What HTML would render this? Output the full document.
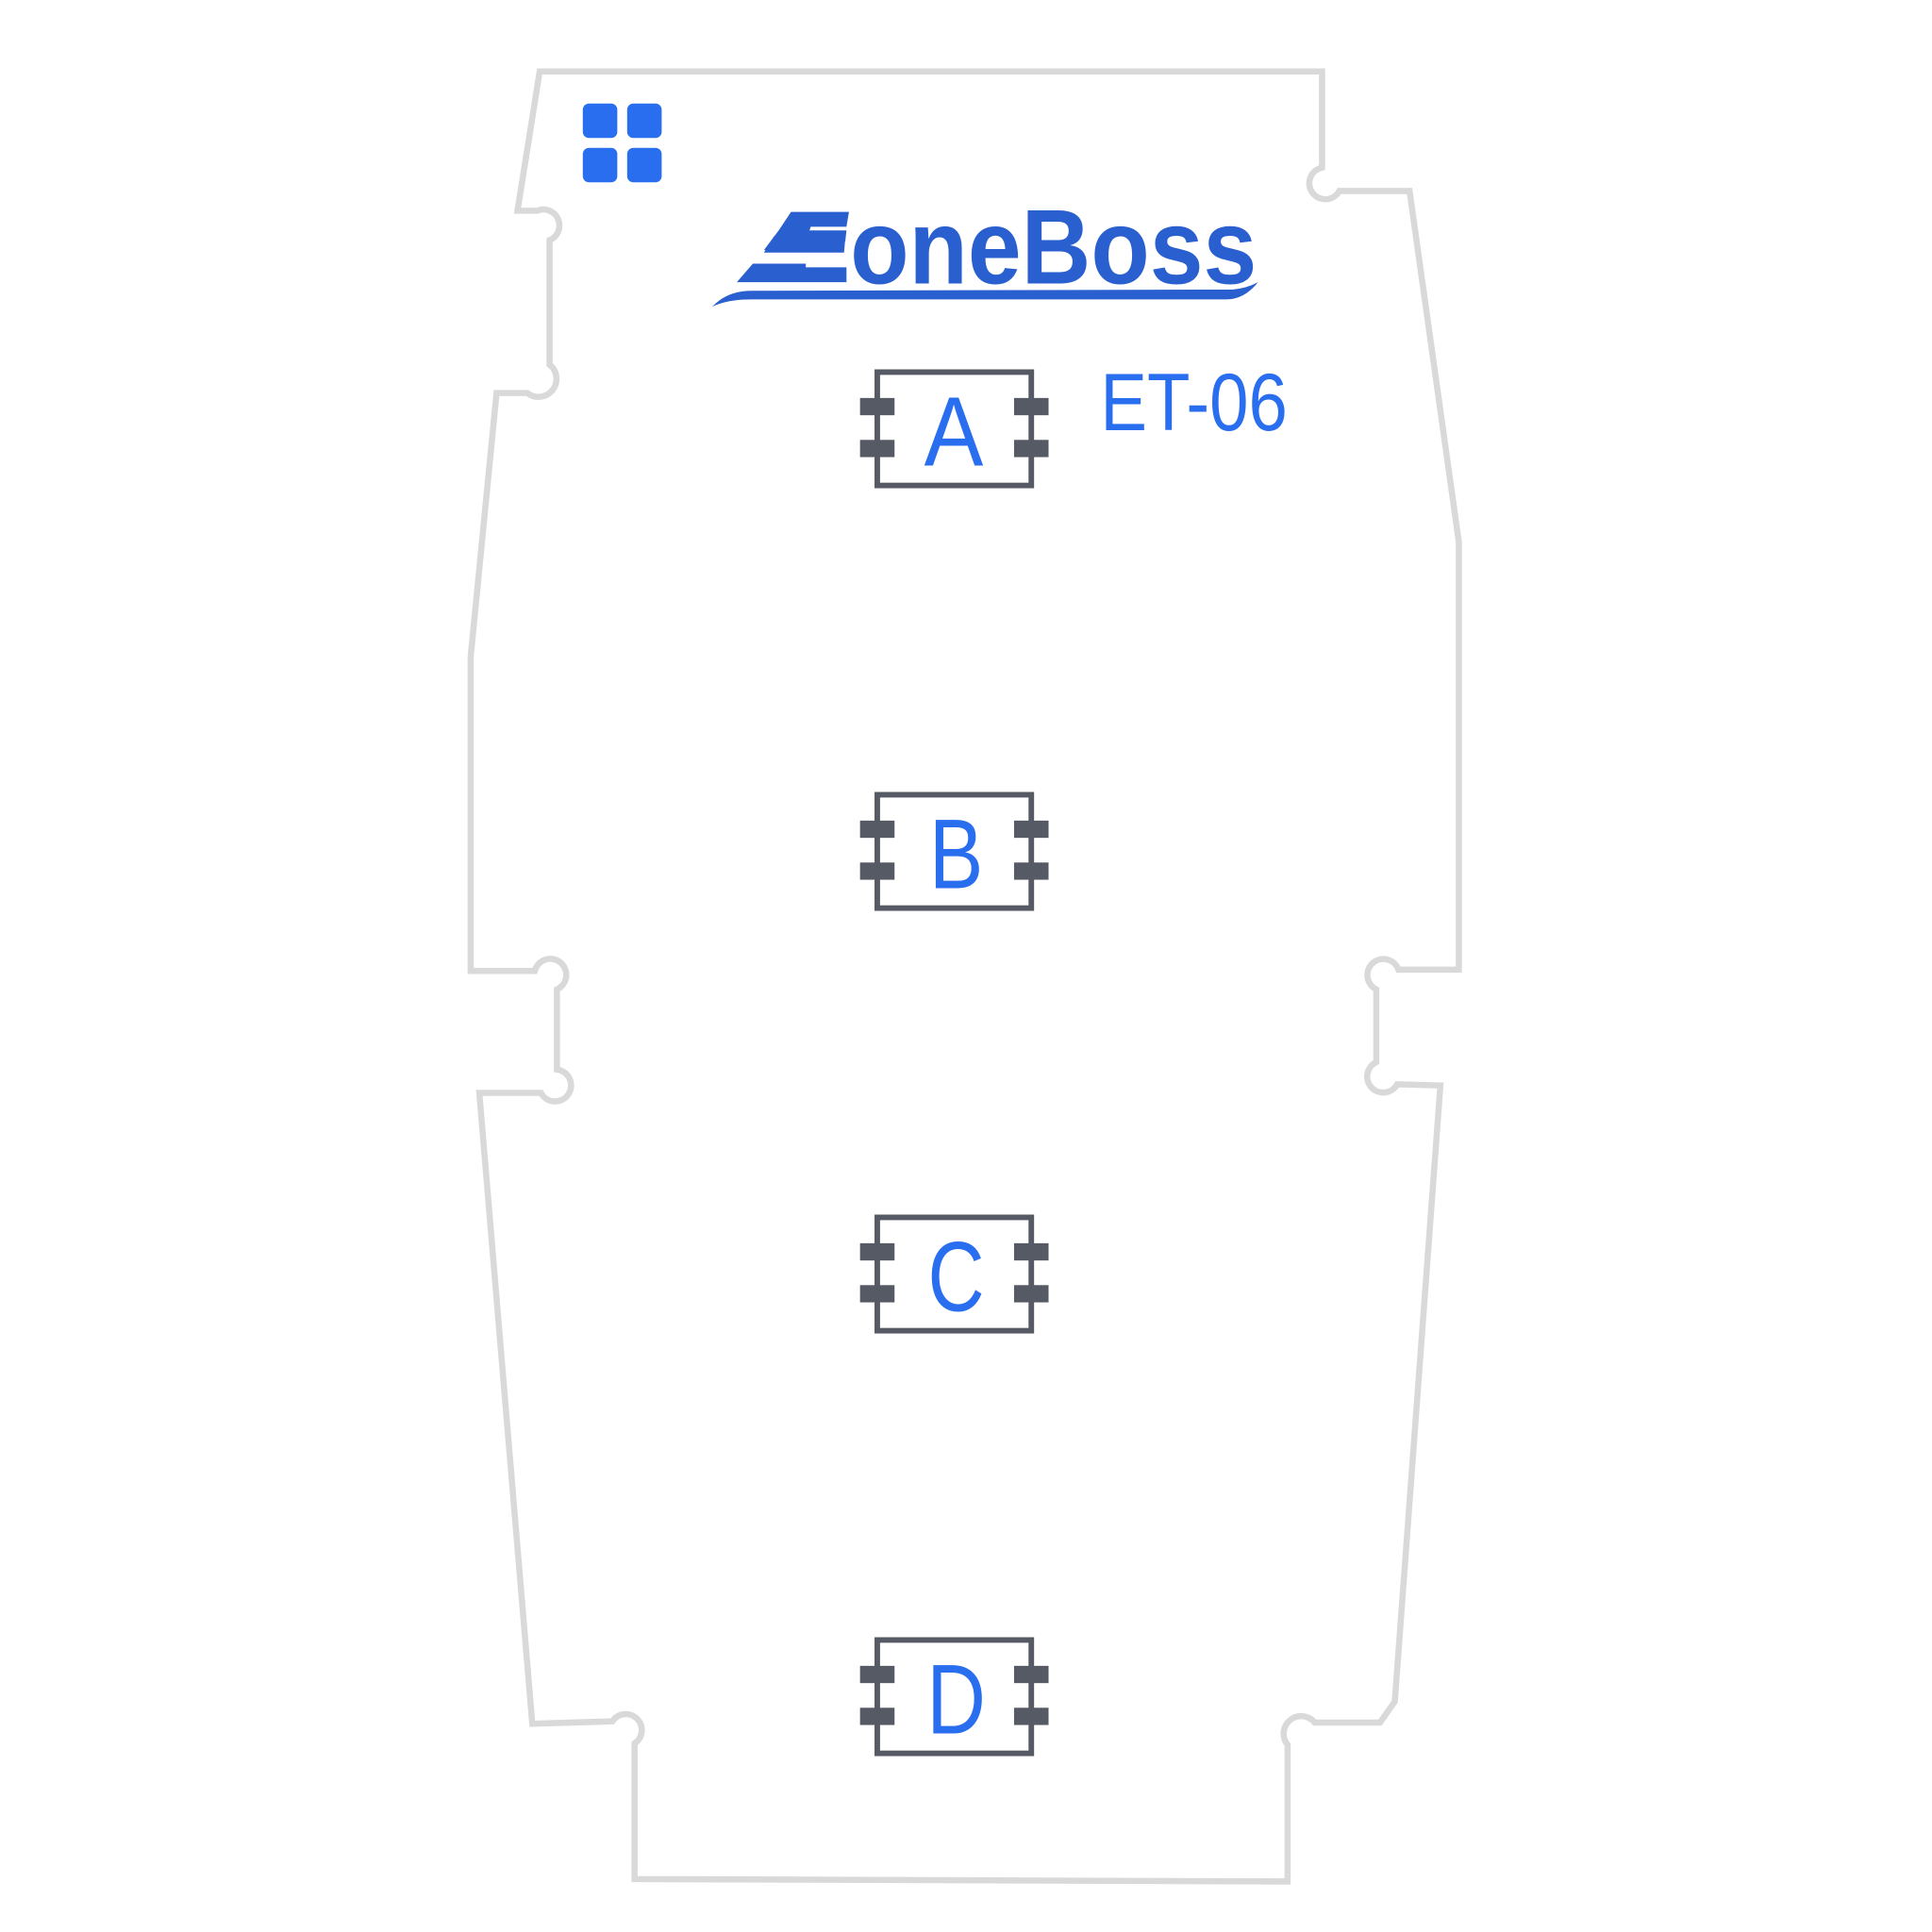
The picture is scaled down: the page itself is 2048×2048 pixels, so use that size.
<!DOCTYPE html>
<html><head><meta charset="utf-8"><style>
html,body{margin:0;padding:0;background:#fff;}
svg{display:block;}
</style></head><body>
<svg width="2048" height="2048" viewBox="0 0 1568 1568" xmlns="http://www.w3.org/2000/svg">
<path fill="none" stroke="#d9d9d9" stroke-width="5" stroke-linejoin="miter"
d="M438,58 L1073,58 L1073,136 A13,13 0 1 0 1087,155 L1144,155 L1184,440 L1184,787 L1135,787 A13,13 0 1 0 1117,803 L1117,862 A13,13 0 1 0 1134,880 L1169,881 L1132,1381 L1120,1398 L1067,1398 A13,13 0 1 0 1045,1416 L1045,1527 L515,1525 L515,1415 A13,13 0 1 0 497,1397 L432,1399 L389,887 L439,887 A13,13 0 1 0 452,868 L452,803 A13,13 0 1 0 434,788 L382,788 L382,533 L403,319 L428,319 A13,13 0 1 0 446,296 L446,195 A13,13 0 1 0 436,171 L420,171 Z"/>
<g fill="#2a6ef0">
<rect x="473" y="84" width="28" height="28" rx="5"/>
<rect x="509" y="84" width="28" height="28" rx="5"/>
<rect x="473" y="120" width="28" height="28" rx="5"/>
<rect x="509" y="120" width="28" height="28" rx="5"/>
</g>
<g fill="#2a5fcf">
<polygon points="642,172 689,172 687,184 658,184 657,187 687,187 686,196 620,203 632,187 634,184"/>
<polygon points="628,192 686,194 685,205 620,205"/>
<polygon points="611,214 654,214 654,217 687,217 687,229 598,229"/>
<path d="M578,249 Q590,236 610,236 L1000,235 Q1012,234 1021,229 Q1010,243 995,243 L610,243 Q590,243 578,249 Z"/>
<text x="690" y="230" font-family="Liberation Sans, sans-serif" font-weight="bold" font-size="86" textLength="330" lengthAdjust="spacingAndGlyphs">oneBoss</text>
</g>
<text x="893" y="349" font-family="Liberation Sans, sans-serif" font-size="66" fill="#2a6ef0" textLength="152" lengthAdjust="spacingAndGlyphs">ET-06</text>
<g id="c">
<rect x="712" y="302" width="125" height="92" fill="none" stroke="#565a64" stroke-width="4.5"/>
<g fill="#565a64">
<rect x="698" y="323" width="28" height="14"/><rect x="698" y="357" width="28" height="14"/>
<rect x="823" y="323" width="28" height="14"/><rect x="823" y="357" width="28" height="14"/>
</g>
</g>
<use href="#c" y="343"/>
<use href="#c" y="686"/>
<use href="#c" y="1029"/>
<g font-family="Liberation Sans, sans-serif" font-size="80" fill="#2a6ef0" text-anchor="middle">
<text x="774" y="378" textLength="48" lengthAdjust="spacingAndGlyphs">A</text>
<text x="776" y="721" textLength="44" lengthAdjust="spacingAndGlyphs">B</text>
<text x="776" y="1064" textLength="46" lengthAdjust="spacingAndGlyphs">C</text>
<text x="776" y="1407" textLength="48" lengthAdjust="spacingAndGlyphs">D</text>
</g>
</svg>
</body></html>
